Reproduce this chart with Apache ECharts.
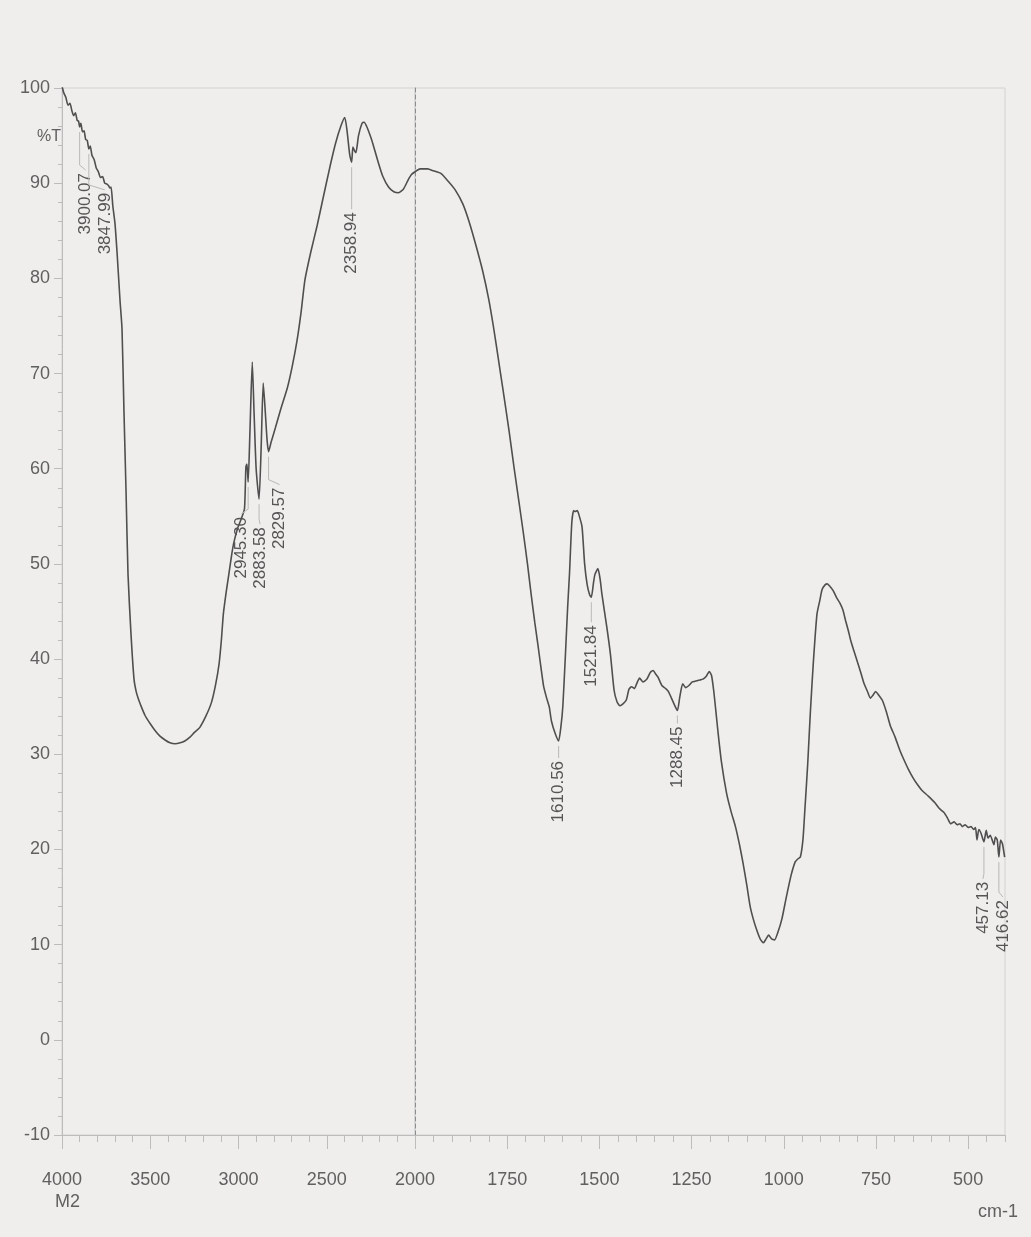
<!DOCTYPE html>
<html>
<head>
<meta charset="utf-8">
<script src="https://cdn.jsdelivr.net/npm/echarts@6/dist/echarts.min.js"></script>
<style>
  html, body { margin: 0; padding: 0; background: #efeeec; }
  #chart { width: 1031px; height: 1237px; }
</style>
</head>
<body>
<div id="chart"></div>
<script>
// FTIR transmittance spectrum of sample M2, split at 2000 cm-1 where the
// instrument changes its wavenumber scale. Pairs are [wavenumber cm-1, %T].
const highRegion = [
  [4000, 100.2], [3990, 99.5], [3978, 99.0], [3966, 98.2], [3955, 98.4], [3944, 97.6],
  [3934, 97.1], [3924, 97.4], [3914, 96.6], [3906, 96.5], [3900.07, 95.9], [3893, 96.3],
  [3884, 95.4], [3875, 95.5], [3866, 94.6], [3857, 94.5], [3847.99, 93.6], [3840, 93.9],
  [3830, 92.9], [3818, 92.5], [3806, 91.6], [3794, 91.2], [3782, 90.6], [3770, 90.7],
  [3758, 90.0], [3745, 89.9], [3735, 89.7], [3728, 89.5], [3722, 89.6], [3712, 87.6],
  [3700, 85.8], [3688, 82.7], [3671, 77.6], [3660, 74.7], [3649, 66.1], [3637, 57.5],
  [3626, 48.9], [3609, 42.6], [3592, 37.9], [3580, 36.6], [3569, 35.9], [3555, 35.2],
  [3530, 34.1], [3500, 33.2], [3473, 32.5], [3445, 31.9], [3416, 31.5], [3388, 31.2],
  [3360, 31.1], [3330, 31.2], [3304, 31.4], [3275, 31.8], [3250, 32.3], [3220, 32.8],
  [3185, 34.0], [3154, 35.4], [3130, 37.3], [3110, 39.5], [3097, 42.0], [3086, 44.7],
  [3070, 47.0], [3054, 49.0], [3040, 50.8], [3028, 52.1], [3006, 53.7], [2983, 54.8],
  [2966, 55.8], [2958, 60.2], [2952, 60.5], [2945.30, 58.6], [2935, 64.0], [2922, 71.2],
  [2912, 66.0], [2900, 60.0], [2883.58, 56.8], [2872, 62.0], [2860, 69.0], [2850, 66.5],
  [2838, 63.0], [2829.57, 61.8], [2815, 62.8], [2791, 64.3], [2760, 66.3], [2723, 68.5],
  [2695, 70.8], [2668, 73.5], [2645, 76.5], [2624, 79.8], [2590, 82.8], [2555, 85.5],
  [2520, 88.5], [2481, 91.8], [2450, 94.2], [2420, 96.0], [2398, 96.9], [2385, 95.5],
  [2370, 93.0], [2358.94, 92.2], [2352, 93.8], [2345, 93.5], [2335, 93.2], [2320, 95.0],
  [2300, 96.3], [2288, 96.4], [2270, 95.8], [2250, 94.8], [2238, 94.1], [2210, 92.3],
  [2182, 90.7], [2150, 89.6], [2120, 89.1], [2093, 89.0], [2065, 89.4], [2040, 90.3],
  [2020, 90.9], [2000, 91.2]
];

const lowRegion = [
  [2000, 91.2], [1986, 91.5], [1966, 91.5], [1950, 91.3], [1929, 91.0], [1910, 90.2],
  [1891, 89.3], [1870, 87.8], [1852, 85.8], [1835, 83.5], [1816, 80.7], [1800, 77.8],
  [1788, 75.1], [1775, 71.8], [1761, 68.2], [1745, 64.0], [1731, 60.0], [1718, 56.5],
  [1706, 53.2], [1695, 50.0], [1685, 46.8], [1675, 43.8], [1667, 41.6], [1658, 39.0],
  [1651, 37.1], [1643, 35.9], [1636, 35.0], [1630, 33.5], [1620, 32.2], [1610.56, 31.4],
  [1604, 33.0], [1599, 35.1], [1592, 40.5], [1586, 45.5], [1581, 49.0], [1575, 54.2],
  [1570, 55.6], [1566, 55.5], [1560, 55.6], [1555, 55.1], [1547, 53.9], [1540, 50.0],
  [1533, 47.8], [1526, 46.7], [1521.84, 46.5], [1516, 48.0], [1512, 48.9], [1504, 49.5],
  [1498, 48.4], [1493, 46.8], [1480, 43.4], [1470, 40.5], [1460, 36.7], [1452, 35.5],
  [1444, 35.1], [1436, 35.3], [1427, 35.7], [1420, 36.8], [1413, 37.1], [1405, 36.9],
  [1399, 37.4], [1391, 38.0], [1382, 37.6], [1371, 37.9], [1362, 38.6], [1354, 38.8],
  [1347, 38.4], [1341, 38.1], [1330, 37.2], [1320, 36.9], [1313, 36.6], [1300, 35.5],
  [1288.45, 34.6], [1282, 36.0], [1274, 37.4], [1266, 37.0], [1258, 37.2], [1248, 37.6],
  [1238, 37.7], [1228, 37.8], [1219, 37.9], [1210, 38.2], [1202, 38.7], [1196, 38.3],
  [1190, 36.7], [1184, 34.5], [1179, 32.6], [1169, 29.2], [1155, 25.9], [1143, 24.0],
  [1131, 22.4], [1120, 20.5], [1111, 18.7], [1100, 16.2], [1091, 14.0], [1082, 12.6],
  [1073, 11.5], [1064, 10.6], [1055, 10.2], [1048, 10.6], [1041, 11.0], [1033, 10.6],
  [1025, 10.5], [1015, 11.4], [1005, 12.7], [993, 15.0], [980, 17.3], [969, 18.7],
  [962, 19.0], [955, 19.2], [948, 21.0], [943, 24.0], [935, 29.0], [928, 34.3],
  [920, 39.5], [910, 44.7], [902, 46.2], [896, 47.3], [888, 47.8], [882, 47.9],
  [874, 47.6], [866, 47.2], [856, 46.4], [848, 45.9], [840, 45.2], [832, 44.0],
  [825, 43.0], [818, 41.9], [810, 40.9], [801, 39.8], [792, 38.7], [782, 37.4],
  [773, 36.6], [765, 35.9], [758, 36.2], [751, 36.6], [744, 36.3], [733, 35.7],
  [722, 34.5], [711, 33.0], [698, 31.8], [686, 30.5], [675, 29.5], [663, 28.5],
  [649, 27.5], [637, 26.8], [625, 26.2], [608, 25.6], [590, 24.9], [578, 24.3],
  [566, 23.9], [556, 23.3], [547, 22.7], [538, 22.9], [530, 22.6], [522, 22.7],
  [516, 22.4], [508, 22.6], [500, 22.3], [492, 22.4], [485, 22.1], [480, 22.3],
  [476, 21.0], [471, 22.1], [465, 21.7], [457.13, 20.8], [451, 22.0], [446, 21.2],
  [440, 21.5], [434, 20.9], [430, 20.5], [426, 21.3], [421, 21.0], [416.62, 19.2],
  [412, 21.0], [407, 20.6], [401, 19.2]
];

// Picked absorption bands, as printed by the instrument
const peakWavenumbers = [3900.07, 3847.99, 2945.30, 2883.58, 2829.57, 2358.94,
                         1610.56, 1521.84, 1288.45, 457.13, 416.62];

// Axis tick labels
const highTickLabels = [4000, 3500, 3000, 2500, 2000];
const lowTickLabels = [1750, 1500, 1250, 1000, 750, 500];

// Placement of each band label: horizontal shift (px) and drop below the band (px)
const peakLabelLayout = [
  { dx: 6, gap: 46 }, { dx: 16, gap: 44 }, { dx: -7, gap: 35 }, { dx: 1, gap: 28 },
  { dx: 11, gap: 36 }, { dx: 0, gap: 50 }, { dx: 0, gap: 20 }, { dx: 0, gap: 28 },
  { dx: 0, gap: 16 }, { dx: -1, gap: 40 }, { dx: 4, gap: 43 }
];

const FONT = '"Liberation Sans", Arial, sans-serif';
const INK = '#555555';
const TICK_TEXT = '#606060';

function transmittanceAt(wn) {
  const all = highRegion.concat(lowRegion);
  const hit = all.find(p => p[0] === wn);
  return hit ? hit[1] : null;
}

const peakData = peakWavenumbers.map((wn, i) => [wn, transmittanceAt(wn), i]);
const highPeaks = peakData.filter(p => p[0] >= 2000);
const lowPeaks = peakData.filter(p => p[0] < 2000);

function renderPeakLabel(params, api) {
  const wn = api.value(0);
  const t = api.value(1);
  const idx = api.value(2);
  const layout = peakLabelLayout[idx];
  const p = api.coord([wn, t]);
  const top = p[1] + layout.gap;
  const tx = p[0] + layout.dx;
  return {
    type: 'group',
    children: [
      {
        type: 'polyline',
        shape: { points: [[p[0], p[1] + 5], [p[0], top - 8], [tx, top - 3]] },
        style: { stroke: '#b8b8b8', lineWidth: 1, fill: 'none' },
        silent: true
      },
      {
        type: 'text',
        x: tx,
        y: top,
        rotation: Math.PI / 2,
        style: {
          text: wn.toFixed(2),
          fill: INK,
          font: '17px ' + FONT,
          align: 'right',
          verticalAlign: 'middle'
        },
        silent: true
      }
    ]
  };
}

const plainNumber = v => String(v);

const chart = echarts.init(document.getElementById('chart'), null, { renderer: 'canvas' });

const gridBorder = '#d2d2d2';
const axisLineColor = '#bcbcbc';

const option = {
  backgroundColor: '#efeeec',
  animation: false,
  grid: [
    { left: 62, top: 88, width: 353, bottom: 102, show: true, borderColor: gridBorder, borderWidth: 1, backgroundColor: 'transparent' },
    { left: 415, top: 88, width: 590, bottom: 102, show: true, borderColor: gridBorder, borderWidth: 1, backgroundColor: 'transparent' }
  ],
  xAxis: [
    {
      type: 'value', gridIndex: 0, min: 2000, max: 4000, interval: 500, inverse: true,
      position: 'bottom',
      axisLine: { show: true, onZero: false, lineStyle: { color: axisLineColor } },
      axisTick: { show: true, length: 14, lineStyle: { color: axisLineColor } },
      minorTick: { show: true, splitNumber: 5, length: 7, lineStyle: { color: axisLineColor } },
      axisLabel: {
        customValues: highTickLabels, formatter: plainNumber,
        margin: 36, color: TICK_TEXT, fontSize: 18, fontFamily: FONT
      },
      splitLine: { show: false }
    },
    {
      type: 'value', gridIndex: 1, min: 400, max: 2000, interval: 50, inverse: true,
      position: 'bottom',
      axisLine: { show: true, onZero: false, lineStyle: { color: axisLineColor } },
      axisTick: { show: true, length: 7, lineStyle: { color: axisLineColor } },
      axisLabel: { show: false },
      splitLine: { show: false }
    },
    {
      type: 'value', gridIndex: 1, min: 400, max: 2000, inverse: true,
      position: 'bottom',
      axisLine: { show: false, onZero: false },
      axisTick: { show: true, length: 14, customValues: lowTickLabels, lineStyle: { color: axisLineColor } },
      axisLabel: {
        customValues: lowTickLabels, formatter: plainNumber,
        margin: 36, color: TICK_TEXT, fontSize: 18, fontFamily: FONT
      },
      splitLine: { show: false }
    }
  ],
  yAxis: [
    {
      type: 'value', gridIndex: 0, min: -10, max: 100, interval: 10,
      axisLine: { show: true, onZero: false, lineStyle: { color: axisLineColor } },
      axisTick: { show: true, length: 8, lineStyle: { color: axisLineColor } },
      minorTick: { show: true, splitNumber: 5, length: 4, lineStyle: { color: axisLineColor } },
      axisLabel: { margin: 12, color: TICK_TEXT, fontSize: 18, fontFamily: FONT },
      splitLine: { show: false }
    },
    {
      type: 'value', gridIndex: 1, min: -10, max: 100, interval: 10,
      axisLine: { show: true, onZero: false, lineStyle: { color: '#8c8c8c', type: [4, 3], width: 1 } },
      axisTick: { show: false },
      axisLabel: { show: false },
      splitLine: { show: false }
    }
  ],
  series: [
    {
      type: 'line', xAxisIndex: 0, yAxisIndex: 0, data: highRegion,
      showSymbol: false, smooth: 0.2, clip: true,
      lineStyle: { color: '#4f4f4f', width: 1.6 }
    },
    {
      type: 'line', xAxisIndex: 1, yAxisIndex: 1, data: lowRegion,
      showSymbol: false, smooth: 0.2, clip: true,
      lineStyle: { color: '#4f4f4f', width: 1.6 }
    },
    {
      type: 'custom', xAxisIndex: 0, yAxisIndex: 0, data: highPeaks,
      renderItem: renderPeakLabel, clip: false, z: 5
    },
    {
      type: 'custom', xAxisIndex: 1, yAxisIndex: 1, data: lowPeaks,
      renderItem: renderPeakLabel, clip: false, z: 5
    }
  ],
  graphic: [
    { type: 'text', left: 37, top: 129, style: { text: '%T', fill: TICK_TEXT, font: '16px ' + FONT } },
    { type: 'text', left: 55, top: 1193, style: { text: 'M2', fill: TICK_TEXT, font: '18px ' + FONT } },
    { type: 'text', left: 978, top: 1203, style: { text: 'cm-1', fill: TICK_TEXT, font: '18px ' + FONT } }
  ]
};

chart.setOption(option);
</script>
</body>
</html>
